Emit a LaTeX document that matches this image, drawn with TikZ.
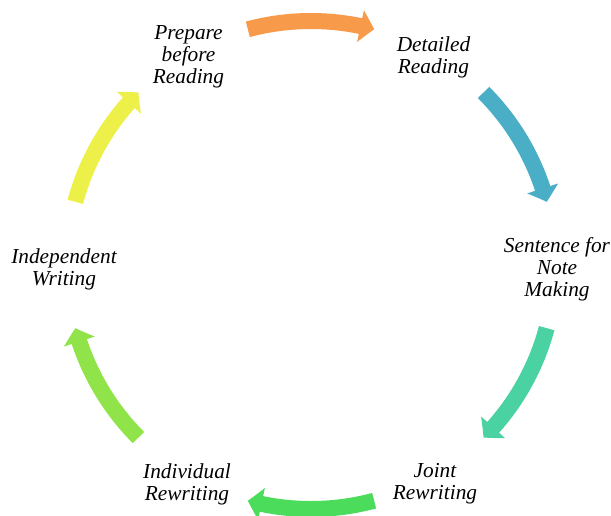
\documentclass[tikz,border=0pt]{standalone}
\usepackage{fontspec}
\setmainfont{Liberation Serif}
\usetikzlibrary{arrows.meta,bending}
\definecolor{cycOrange}{HTML}{F79A4A}
\definecolor{cycBlue}{HTML}{4BAEC7}
\definecolor{cycTeal}{HTML}{4BD2A2}
\definecolor{cycGreen}{HTML}{4BDC5B}
\definecolor{cycLime}{HTML}{90E44A}
\definecolor{cycYellow}{HTML}{EEF04A}
\begin{document}
\begin{tikzpicture}[
        x=0.6pt, y=0.6pt,
        stage/.style = {align=center, inner sep=0pt, yshift=-2.6pt,
          font=\fontsize{12.8}{13.2}\selectfont\itshape},
        turn/.style = {line width=9.6pt,
          -{Triangle[length=8.4pt, width=19pt, bend]}}
        ]
        \useasboundingbox (-311,-250) rectangle (300,265);
        % stages of the cycle
        \node[stage] (prepare)     at (120:245) {Prepare\\before\\Reading};
        \node[stage] (detailed)    at (60:245)  {Detailed\\Reading};
        \node[stage] (sentence)    at (0:246)   {Sentence for\\Note\\Making};
        \node[stage] (joint)       at (-60:248) {Joint\\Rewriting};
        \node[stage] (individual)  at (-120:248) {Individual\\Rewriting};
        \node[stage] (independent) at (180:247) {Independent\\Writing};
        % arrows between the stages
        \foreach \a/\col in {90/cycOrange, 30/cycBlue, -30/cycTeal,
                             -90/cycGreen, 210/cycLime, 150/cycYellow}
            \draw[turn, \col] (\a+15:244)
                arc[start angle=\a+15, end angle=\a-15, radius=244];
    \end{tikzpicture}
\end{document}
